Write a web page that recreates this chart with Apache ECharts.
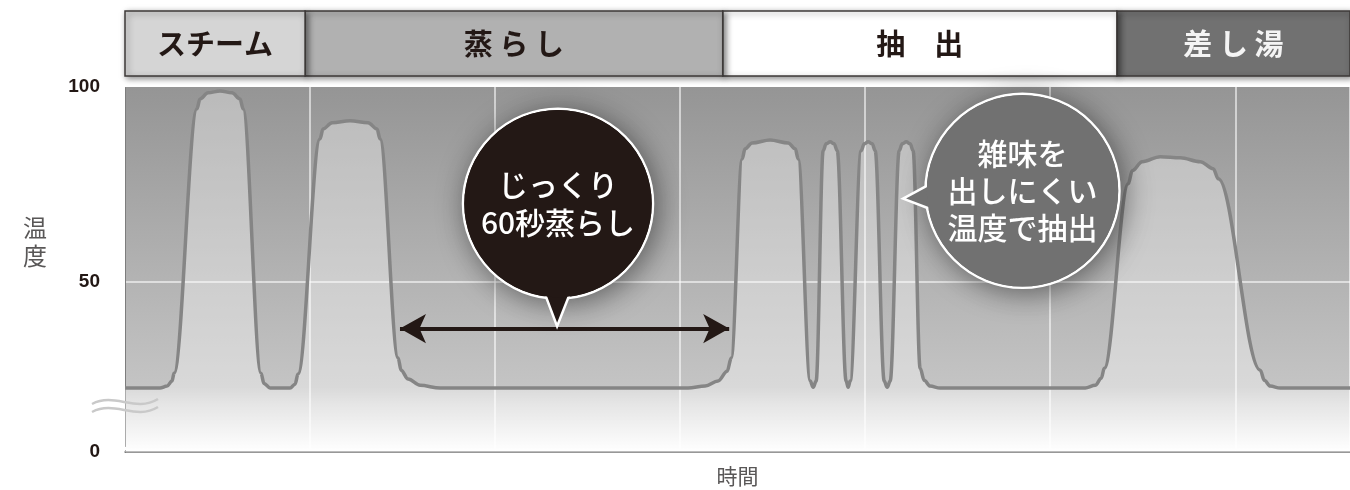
<!DOCTYPE html>
<html>
<head>
<meta charset="utf-8">
<script src="https://cdn.jsdelivr.net/npm/echarts@6.0.0/dist/echarts.min.js"></script>
<style>
  html, body { margin: 0; padding: 0; background: #fff; }
  #chart { width: 1350px; height: 490px; }
</style>
</head>
<body>
<div id="chart"></div>
<script>
// time in arbitrary units (one grid cell = 10), temperature in degrees
const curveX = [0, 1.89, 2.27, 2.54, 2.65, 3.89, 4.05, 4.49, 5.14, 5.78, 6.22, 6.38,
  7.35, 7.51, 7.84, 8.92, 9.19, 9.35,
  10.54, 10.70, 11.19, 12.16, 13.14, 13.62, 13.78,
  14.76, 14.92, 15.30, 15.95, 17.03,
  30.43, 31.35, 32.05, 32.54, 32.76,
  33.35, 33.51, 33.89, 34.86, 35.84, 36.22, 36.38,
  37.03, 37.19, 37.35,
  37.73, 37.89, 38.11, 38.32, 38.49, 38.97, 39.08, 39.19,
  39.78, 39.95, 40.16, 40.38, 40.54, 41.03, 41.19, 41.35,
  41.84, 42.0, 42.22, 42.43, 42.59, 42.97, 43.19, 43.51, 44.05,
  51.89, 52.43, 52.76, 52.92,
  54.22, 54.43, 54.97, 55.95, 57.03, 58.11, 58.81, 59.08,
  61.35, 61.57, 61.89, 62.43, 66.2]
const curveTemp = [22.6, 22.6, 23.1, 24.4, 26.4, 94.4, 96.9, 98.5, 99.0, 98.5, 96.9, 94.4,
  26.4, 23.8, 22.6, 22.6, 23.6, 26.2,
  86.7, 89.2, 90.8, 91.3, 90.8, 89.2, 86.7,
  30.3, 27.2, 24.9, 23.3, 22.6,
  22.6, 23.1, 24.4, 26.9, 30.3,
  81.5, 84.1, 85.6, 86.4, 85.6, 84.1, 81.5,
  24.4, 22.8, 24.4,
  83.6, 85.4, 85.9, 85.4, 83.6, 24.4, 22.8, 24.4,
  83.6, 85.4, 85.9, 85.4, 83.6, 24.4, 22.8, 24.4,
  83.6, 85.4, 85.9, 85.4, 83.6, 27.7, 24.6, 23.1, 22.6,
  22.6, 23.3, 25.1, 27.7,
  75.1, 78.5, 80.8, 82.1, 81.8, 80.8, 79.0, 76.4,
  27.2, 24.6, 23.1, 22.6, 22.6]

const phaseNames = ['スチーム', '蒸 ら し', '抽　出', '差 し 湯']
const phaseStart = [0, 9.73, 32.3, 53.6]
const phaseEnd = [9.73, 32.3, 53.6, 66.2]
const phaseColors = ['#d5d5d5', '#b1b1b1', '#ffffff', '#717171']
const phaseTextColors = ['#231815', '#231815', '#231815', '#f4f4f4']

const yTickValues = [0, 50, 100]
const X_MAX = 66.2

// 60 second steaming arrow
const arrowFrom = [14.86, 37.9]
const arrowTo = [32.65, 37.9]

const chart = echarts.init(document.getElementById('chart'))

const pts = curveX.map((x, i) => [x, curveTemp[i]])

chart.setOption({
  animation: false,
  grid: [
    {
      left: 125, right: 0, top: 87, bottom: 38, show: true, borderWidth: 0,
      outerBoundsMode: 'none',
      backgroundColor: new echarts.graphic.LinearGradient(0, 0, 0, 1, [
        { offset: 0, color: '#959595' },
        { offset: 0.54, color: '#b4b4b4' },
        { offset: 0.82, color: '#c4c4c4' },
        { offset: 0.87, color: '#d8d8d8' },
        { offset: 1, color: '#ffffff' }
      ])
    },
    { left: 125, right: 0, top: 11, height: 65, outerBoundsMode: 'none' }
  ],
  xAxis: [
    {
      gridIndex: 0, type: 'value', min: 0, max: X_MAX, interval: 10,
      name: '時間', nameLocation: 'middle', nameGap: 14,
      nameTextStyle: { fontFamily: 'Noto Sans CJK JP', fontSize: 21, color: '#595757' },
      axisLine: { lineStyle: { color: '#777', width: 1.5 } },
      axisTick: { show: false },
      axisLabel: { show: false },
      splitLine: { lineStyle: { color: 'rgba(255,255,255,0.75)', width: 1.5 } }
    },
    { gridIndex: 1, type: 'value', min: 0, max: X_MAX, show: false }
  ],
  yAxis: [
    {
      gridIndex: 0, type: 'value', min: 0, max: 100, interval: 50,
      breaks: [{ start: 0.5, end: 7.6, gap: '1%' }],
      breakArea: { show: false },
      name: '温\n度', nameLocation: 'middle', nameRotate: 0, nameGap: 78,
      nameTextStyle: { fontFamily: 'Noto Sans CJK JP', fontSize: 24, color: '#595757',
        lineHeight: 28, verticalAlign: 'bottom' },
      axisLine: { show: true, lineStyle: { color: '#7d7d7d' } },
      axisTick: { show: false },
      axisLabel: {
        customValues: yTickValues, margin: 25, fontSize: 19, fontWeight: 'bold',
        fontFamily: 'Liberation Sans', color: '#231815'
      },
      splitLine: { showMaxLine: false, lineStyle: { color: 'rgba(255,255,255,0.75)', width: 1.5 } }
    },
    { gridIndex: 1, type: 'value', min: 0, max: 1, show: false }
  ],
  series: [
    {
      type: 'line', xAxisIndex: 0, yAxisIndex: 0,
      data: pts, showSymbol: false, smooth: 0.35, smoothMonotone: 'x',
      lineStyle: { color: '#858585', width: 3.5 },
      areaStyle: { color: 'rgba(255,255,255,0.5)', origin: 'start' },
      markLine: {
        silent: true, symbol: ['arrow', 'arrow'], symbolSize: [22, 26],
        label: { show: false },
        lineStyle: { color: '#231815', width: 4, type: 'solid' },
        data: [[{ coord: arrowFrom }, { coord: arrowTo }]]
      },
      z: 3
    },
    {
      type: 'custom', xAxisIndex: 1, yAxisIndex: 1,
      data: phaseNames.map((n, i) => [phaseStart[i], phaseEnd[i], i]),
      renderItem: (params, api) => {
        const i = api.value(2)
        const p0 = api.coord([api.value(0), 1])
        const p1 = api.coord([api.value(1), 0])
        return {
          type: 'group',
          children: [{
            type: 'rect', z2: 10 - i,
            shape: { x: p0[0], y: p0[1], width: p1[0] - p0[0], height: p1[1] - p0[1] },
            style: {
              fill: phaseColors[i], stroke: '#3e3a39', lineWidth: 1.5,
              shadowBlur: 6, shadowOffsetX: 2, shadowOffsetY: 2, shadowColor: 'rgba(0,0,0,0.45)'
            }
          }, {
            type: 'text', z2: 20,
            style: {
              x: (p0[0] + p1[0]) / 2, y: (p0[1] + p1[1]) / 2,
              text: phaseNames[i], align: 'center', verticalAlign: 'middle',
              fontFamily: 'Noto Sans CJK JP', fontWeight: 'bold', fontSize: 29,
              fill: phaseTextColors[i]
            }
          }]
        }
      }
    }
  ]
})

// speech bubbles, placed from data coordinates
function bubble(center, r, tip, color, lines, fontSize, lineH) {
  const c = chart.convertToPixel({ gridIndex: 0 }, center)
  const t = chart.convertToPixel({ gridIndex: 0 }, tip)
  const th = Math.atan2(t[1] - c[1], t[0] - c[0])
  const d = 0.15
  const b1 = [c[0] + (r - 6) * Math.cos(th + d), c[1] + (r - 6) * Math.sin(th + d)]
  const b2 = [c[0] + (r - 6) * Math.cos(th - d), c[1] + (r - 6) * Math.sin(th - d)]
  const texts = lines.map((s, k) => ({
    type: 'text', z: 24,
    style: {
      x: c[0], y: c[1] + (k - (lines.length - 1) / 2) * lineH,
      text: s, align: 'center', verticalAlign: 'middle',
      fontFamily: 'Noto Sans CJK JP', fontWeight: 500, fontSize: fontSize, fill: '#ffffff'
    }
  }))
  return [{
    type: 'circle', z: 20,
    shape: { cx: c[0], cy: c[1], r: r },
    style: {
      fill: color, stroke: '#ffffff', lineWidth: 2.5,
      shadowBlur: 28, shadowColor: 'rgba(0,0,0,0.45)', shadowOffsetX: 4, shadowOffsetY: 4
    }
  }, {
    type: 'polygon', z: 21,
    shape: { points: [b1, t, b2] },
    style: { fill: color, stroke: '#ffffff', lineWidth: 2.5, lineJoin: 'miter' }
  }, {
    type: 'circle', z: 22,
    shape: { cx: c[0], cy: c[1], r: r - 1.3 },
    style: { fill: color }
  }].concat(texts)
}

const wave = (y) => ({
  type: 'bezierCurve', z: 22,
  shape: { x1: 92, y1: y + 3, cpx1: 115, cpy1: y - 9, cpx2: 135, cpy2: y + 12, x2: 158, y2: y - 2 },
  style: { stroke: '#c9c9c9', lineWidth: 2.5, fill: null }
})

chart.setOption({
  graphic: bubble([23.4, 70.0], 95, [23.35, 38.5], '#231815', ['じっくり', '60秒蒸らし'], 30, 38)
    .concat(bubble([48.5, 73.3], 97, [42.05, 71.3], '#717171', ['雑味を', '出しにくい', '温度で抽出'], 30, 37))
    .concat([wave(401), wave(409)])
})
</script>
</body>
</html>
